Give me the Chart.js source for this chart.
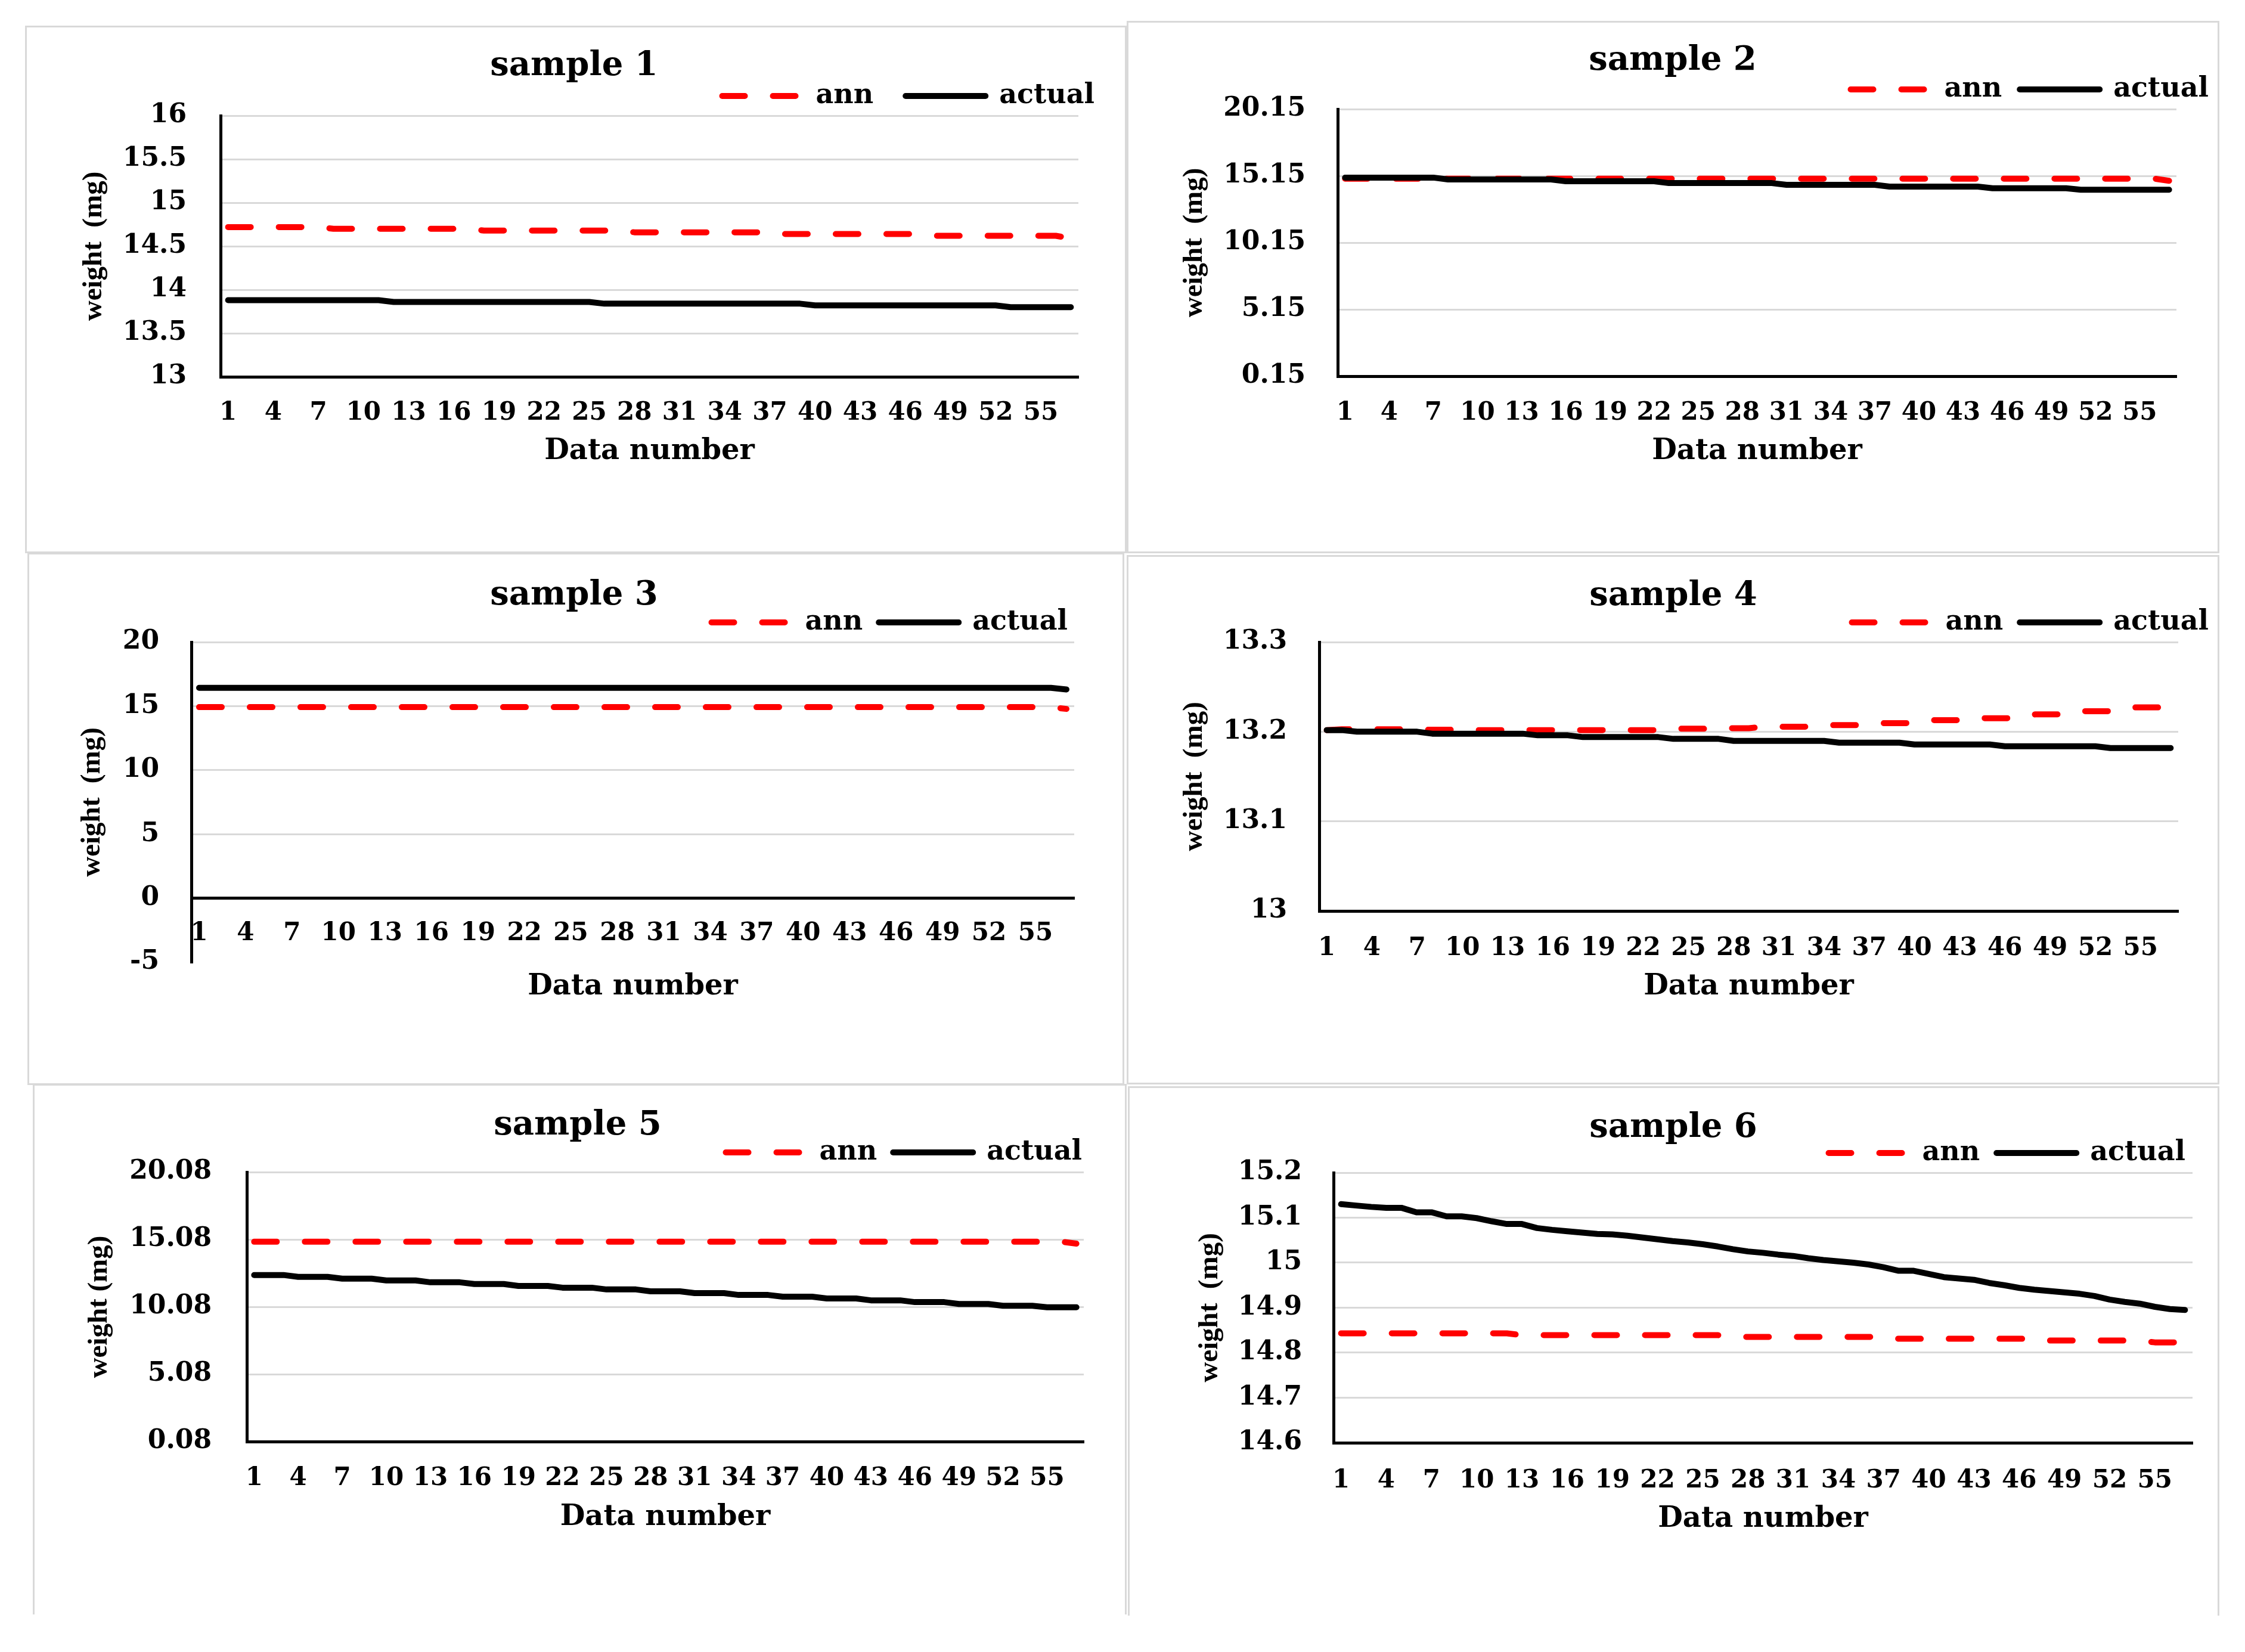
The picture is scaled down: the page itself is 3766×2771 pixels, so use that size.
<!DOCTYPE html>
<html><head><meta charset="utf-8">
<script src="https://cdn.jsdelivr.net/npm/chart.js@4/dist/chart.umd.min.js"></script>
<style>
html,body{margin:0;padding:0;background:#fff;}
body{width:3766px;height:2771px;position:relative;overflow:hidden;}
.frame{position:absolute;box-sizing:border-box;border:3px solid #d9d9d9;pointer-events:none;}
canvas{position:absolute;}
</style></head><body>
<script>
// ---------------- DATA ----------------
const categories = ['1','2','3','4','5','6','7','8','9','10','11','12','13','14','15','16','17','18','19','20',
  '21','22','23','24','25','26','27','28','29','30','31','32','33','34','35','36','37','38','39','40',
  '41','42','43','44','45','46','47','48','49','50','51','52','53','54','55','56','57'];

const sampleTitles = ['sample 1','sample 2','sample 3','sample 4','sample 5','sample 6'];
const seriesNames = ['ann','actual'];
const xAxisTitle = 'Data number';

const s1Ticks = [13, 13.5, 14, 14.5, 15, 15.5, 16];
const s1Ann = [14.72,14.72,14.72,14.72,14.72,14.72,14.72,14.70,14.70,14.70,14.70,14.70,14.70,14.70,14.70,14.70,14.70,
  14.68,14.68,14.68,14.68,14.68,14.68,14.68,14.68,14.68,14.68,14.66,14.66,14.66,14.66,14.66,14.66,14.66,14.66,14.66,14.66,
  14.64,14.64,14.64,14.64,14.64,14.64,14.64,14.64,14.64,14.64,14.62,14.62,14.62,14.62,14.62,14.62,14.62,14.62,14.62,14.59];
const s1Actual = [13.88,13.88,13.88,13.88,13.88,13.88,13.88,13.88,13.88,13.88,13.88,
  13.86,13.86,13.86,13.86,13.86,13.86,13.86,13.86,13.86,13.86,13.86,13.86,13.86,13.86,
  13.84,13.84,13.84,13.84,13.84,13.84,13.84,13.84,13.84,13.84,13.84,13.84,13.84,13.84,
  13.82,13.82,13.82,13.82,13.82,13.82,13.82,13.82,13.82,13.82,13.82,13.82,13.82,
  13.80,13.80,13.80,13.80,13.80];

const s2Ticks = [0.15, 5.15, 10.15, 15.15, 20.15];
const s2Ann = [14.94,14.94,14.94,14.94,14.94,14.94,14.94,14.94,14.94,14.94,14.94,14.94,14.94,14.94,14.94,14.94,14.94,14.94,14.94,
  14.94,14.94,14.94,14.94,14.94,14.94,14.94,14.94,14.94,14.94,14.94,14.94,14.94,14.94,14.94,14.94,14.94,14.94,14.94,14.94,
  14.94,14.94,14.94,14.94,14.94,14.94,14.94,14.94,14.94,14.94,14.94,14.94,14.94,14.94,14.94,14.94,14.94,14.78];
const s2Actual = [15.02,15.02,15.02,15.02,15.02,15.02,15.02,
  14.88,14.88,14.88,14.88,14.88,14.88,14.88,14.88,
  14.75,14.75,14.75,14.75,14.75,14.75,14.75,
  14.61,14.61,14.61,14.61,14.61,14.61,14.61,14.61,
  14.48,14.48,14.48,14.48,14.48,14.48,14.48,
  14.35,14.35,14.35,14.35,14.35,14.35,14.35,
  14.22,14.22,14.22,14.22,14.22,14.22,
  14.11,14.11,14.11,14.11,14.11,14.11,14.11];

const s3Ticks = [-5, 0, 5, 10, 15, 20];
const s3Ann = [14.92,14.92,14.92,14.92,14.92,14.92,14.92,14.92,14.92,14.92,14.92,14.92,14.92,14.92,14.92,14.92,14.92,14.92,14.92,
  14.92,14.92,14.92,14.92,14.92,14.92,14.92,14.92,14.92,14.92,14.92,14.92,14.92,14.92,14.92,14.92,14.92,14.92,14.92,14.92,
  14.92,14.92,14.92,14.92,14.92,14.92,14.92,14.92,14.92,14.92,14.92,14.92,14.92,14.92,14.92,14.92,14.92,14.78];
const s3Actual = [16.43,16.43,16.43,16.43,16.43,16.43,16.43,16.43,16.43,16.43,16.43,16.43,16.43,16.43,16.43,16.43,16.43,16.43,16.43,
  16.43,16.43,16.43,16.43,16.43,16.43,16.43,16.43,16.43,16.43,16.43,16.43,16.43,16.43,16.43,16.43,16.43,16.43,16.43,16.43,
  16.43,16.43,16.43,16.43,16.43,16.43,16.43,16.43,16.43,16.43,16.43,16.43,16.43,16.43,16.43,16.43,16.43,16.30];

const s4Ticks = [13, 13.1, 13.2, 13.3];
const s4Ann = [13.2018,13.2027,13.2027,13.2027,13.2027,13.2027,13.2022,13.2022,13.2022,13.2022,
  13.2018,13.2018,13.2018,13.2018,13.2018,13.2018,13.2018,13.2018,13.2018,13.2018,13.2018,13.2018,13.2018,
  13.2033,13.2033,13.2033,13.2039,13.2039,13.2039,13.2056,13.2056,13.2056,13.2056,
  13.2073,13.2073,13.2073,13.2073,13.2096,13.2096,13.2096,13.2129,13.2129,13.2129,
  13.2151,13.2151,13.2151,13.2151,13.2193,13.2193,13.2193,13.2229,13.2229,13.2229,
  13.2271,13.2271,13.2271,13.2275];
const s4Actual = [13.2018,13.2018,13.2000,13.2000,13.2000,13.2000,13.2000,
  13.1978,13.1978,13.1978,13.1978,13.1978,13.1978,13.1978,13.1960,13.1960,13.1960,
  13.1940,13.1940,13.1940,13.1940,13.1940,13.1940,13.1920,13.1920,13.1920,13.1920,
  13.1898,13.1898,13.1898,13.1898,13.1898,13.1898,13.1898,13.1878,13.1878,13.1878,13.1878,13.1878,
  13.1858,13.1858,13.1858,13.1858,13.1858,13.1858,13.1838,13.1838,13.1838,13.1838,13.1838,13.1838,13.1838,
  13.1818,13.1818,13.1818,13.1818,13.1818];

const s5Ticks = [0.08, 5.08, 10.08, 15.08, 20.08];
const s5Ann = [14.91,14.91,14.91,14.91,14.91,14.91,14.91,14.91,14.91,14.91,14.91,14.91,14.91,14.91,14.91,14.91,14.91,14.91,14.91,
  14.91,14.91,14.91,14.91,14.91,14.91,14.91,14.91,14.91,14.91,14.91,14.91,14.91,14.91,14.91,14.91,14.91,14.91,14.91,14.91,
  14.91,14.91,14.91,14.91,14.91,14.91,14.91,14.91,14.91,14.91,14.91,14.91,14.91,14.91,14.91,14.91,14.91,14.77];
const s5Actual = [12.44,12.44,12.44,12.30,12.30,12.30,12.17,12.17,12.17,12.04,12.04,12.04,11.90,11.90,11.90,
  11.77,11.77,11.77,11.63,11.63,11.63,11.50,11.50,11.50,11.37,11.37,11.37,11.23,11.23,11.23,
  11.10,11.10,11.10,10.96,10.96,10.96,10.83,10.83,10.83,10.70,10.70,10.70,10.56,10.56,10.56,
  10.43,10.43,10.43,10.29,10.29,10.29,10.16,10.16,10.16,10.05,10.05,10.05];

const s6Ticks = [14.6, 14.7, 14.8, 14.9, 15, 15.1, 15.2];
const s6Ann = [14.843,14.843,14.843,14.843,14.843,14.843,14.843,14.843,14.843,14.843,14.843,14.843,
  14.839,14.839,14.839,14.839,14.839,14.839,14.839,14.839,14.839,14.839,14.839,14.839,14.839,14.839,
  14.835,14.835,14.835,14.835,14.835,14.835,14.835,14.835,14.835,14.835,14.835,
  14.831,14.831,14.831,14.831,14.831,14.831,14.831,14.831,14.831,14.831,
  14.827,14.827,14.827,14.827,14.827,14.827,14.827,14.823,14.823,14.823];
const s6Actual = [15.130,15.127,15.124,15.122,15.122,15.112,15.112,15.103,15.103,15.099,15.092,15.086,15.086,15.077,15.073,
  15.070,15.067,15.064,15.063,15.060,15.056,15.052,15.048,15.045,15.041,15.036,15.030,15.025,15.022,15.018,
  15.015,15.010,15.006,15.003,15.000,14.996,14.990,14.982,14.982,14.975,14.968,14.965,14.962,14.955,14.950,
  14.944,14.940,14.937,14.934,14.931,14.926,14.918,14.913,14.909,14.902,14.897,14.895];

// ---------------- LAYOUT (pixel geometry of each panel) ----------------
const panels = [
  {title: sampleTitles[0], ticks: s1Ticks, ann: s1Ann, actual: s1Actual, yTitle: 'weight  (mg)',
   box: [42, 43, 1890, 928], titleCx: 963, titleCy: 111, legendEnd: 1836, gap: 54,
   axisX: 370, plotRight: 1809, plotTop: 192, plotBottom: 632, yTickRight: 313, yTitleCx: 158,
   xLabCy: 693, xTitleCy: 758},
  {title: sampleTitles[1], ticks: s2Ticks, ann: s2Ann, actual: s2Actual, yTitle: 'weight  (mg)',
   box: [1890, 35, 3723, 928], titleCx: 2806, titleCy: 102, legendEnd: 3705, gap: 30,
   axisX: 2244, plotRight: 3651, plotTop: 183, plotBottom: 631, yTickRight: 2190, yTitleCx: 2004,
   xLabCy: 693, xTitleCy: 758},
  {title: sampleTitles[2], ticks: s3Ticks, ann: s3Ann, actual: s3Actual, yTitle: 'weight  (mg)',
   box: [46, 927, 1886, 1820], titleCx: 963, titleCy: 999, legendEnd: 1791, gap: 27,
   axisX: 321, plotRight: 1802, plotTop: 1077, plotBottom: 1614, zeroY: 1505, yTickRight: 267, yTitleCx: 155,
   xLabCy: 1564, xTitleCy: 1654, hideGridAt: -5},
  {title: sampleTitles[3], ticks: s4Ticks, ann: s4Ann, actual: s4Actual, yTitle: 'weight  (mg)',
   box: [1890, 931, 3723, 1819], titleCx: 2807, titleCy: 1000, legendEnd: 3705, gap: 28,
   axisX: 2213, plotRight: 3654, plotTop: 1077, plotBottom: 1528, yTickRight: 2159, yTitleCx: 2004,
   xLabCy: 1591, xTitleCy: 1656},
  {title: sampleTitles[4], ticks: s5Ticks, ann: s5Ann, actual: s5Actual, yTitle: 'weight (mg)',
   box: [55, 1818, 1890, 2708], openBottom: true, titleCx: 969, titleCy: 1888, legendEnd: 1815, gap: 27,
   axisX: 414, plotRight: 1818, plotTop: 1966, plotBottom: 2418, yTickRight: 355, yTitleCx: 167,
   xLabCy: 2480, xTitleCy: 2546},
  {title: sampleTitles[5], ticks: s6Ticks, ann: s6Ann, actual: s6Actual, yTitle: 'weight  (mg)',
   box: [1892, 1822, 3723, 2710], openBottom: true, titleCx: 2807, titleCy: 1892, legendEnd: 3666, gap: 28,
   axisX: 2237, plotRight: 3678, plotTop: 1967, plotBottom: 2420, yTickRight: 2184, yTitleCx: 2030,
   xLabCy: 2484, xTitleCy: 2549}
];

const SERIF = "'DejaVu Serif', serif";
const TIMES = "'Liberation Serif', 'Times New Roman', serif";
const F_TITLE = 56, F_LEG = 46, F_YT = 44, F_XT = 42, F_AX = 48, F_YTITLE = 47;
const EXT = 40;
const LABEL_EVERY = 3;
const LINE_W = 10;
const LEGEND_LINE = 134;

Chart.defaults.color = '#000';
Chart.defaults.font.family = SERIF;

function legendLabels(chart) {
  const items = Chart.defaults.plugins.legend.labels.generateLabels(chart);
  return items.map(item => {
    const ds = chart.data.datasets[item.datasetIndex];
    item.lineDash = ds.borderDash || [];
    item.lineWidth = ds.borderWidth;
    item.lineCap = ds.borderCapStyle;
    item.strokeStyle = ds.borderColor;
    item.fillStyle = ds.borderColor;
    item.pointStyle = 'line';
    return item;
  });
}

function build(p) {
  const [L, T, R, B] = p.box;
  const cL = L - EXT, W = R - L + 2 * EXT, H = B - T;
  const X = v => v - cL, Y = v => v - T;

  const frame = document.createElement('div');
  frame.className = 'frame';
  frame.style.left = L + 'px'; frame.style.top = T + 'px';
  frame.style.width = (R - L) + 'px'; frame.style.height = (B - T) + 'px';
  if (p.openBottom) frame.style.borderBottom = 'none';

  const canvas = document.createElement('canvas');
  canvas.width = W; canvas.height = H;
  canvas.style.left = cL + 'px'; canvas.style.top = T + 'px';
  canvas.style.width = W + 'px'; canvas.style.height = H + 'px';
  document.body.appendChild(canvas);
  document.body.appendChild(frame);

  const centerAxis = (p.zeroY !== undefined);
  const padR = W - p.gap - X(p.legendEnd);
  const padL = 2 * X(p.titleCx) - W + padR;
  const yW = X(p.axisX) - padL;
  const yTitlePad = X(p.yTitleCx) - padL - F_YTITLE / 2;
  const yTickPad = p.axisX - p.yTickRight;
  const rW = W - padR - X(p.plotRight);
  const padT = Y(p.titleCy) - F_TITLE / 2;
  const legendTop = Y(p.plotTop) - (F_LEG + p.gap + 10);
  let titlePB = legendTop - padT - F_TITLE;
  if (titlePB < -F_TITLE + 1) titlePB = -F_TITLE + 1;
  const axisY = centerAxis ? Y(p.zeroY) : Y(p.plotBottom);
  const xH = Y(p.xTitleCy) - axisY + F_AX / 2;
  // an axis placed at a data value does not reserve layout space below the plot
  const padB = centerAxis ? (H - Y(p.plotBottom)) : (H - Y(p.plotBottom) - xH);
  const xTickPad = Y(p.xLabCy) - axisY - F_XT / 2;

  new Chart(canvas.getContext('2d'), {
    type: 'line',
    data: {
      labels: categories,
      datasets: [
        {label: seriesNames[0], data: p.ann, borderColor: '#ff0000', backgroundColor: '#ff0000',
         borderWidth: LINE_W, borderDash: [38, 47], borderCapStyle: 'round', borderJoinStyle: 'round',
         pointRadius: 0, pointHoverRadius: 0, tension: 0, fill: false, order: 1, yAxisID: 'y'},
        {label: seriesNames[1], data: p.actual, borderColor: '#000000', backgroundColor: '#000000',
         borderWidth: LINE_W, borderCapStyle: 'round', borderJoinStyle: 'round',
         pointRadius: 0, pointHoverRadius: 0, tension: 0, fill: false, order: 0, yAxisID: 'y'}
      ]
    },
    options: {
      responsive: false, animation: false, devicePixelRatio: 1,
      events: [],
      layout: {padding: {left: padL, right: padR, top: padT, bottom: padB}},
      plugins: {
        tooltip: {enabled: false},
        title: {display: true, text: p.title, color: '#000',
                font: {family: SERIF, size: F_TITLE, weight: 'bold', lineHeight: 1},
                padding: {top: 0, bottom: titlePB}},
        legend: {display: true, position: 'top', align: 'end',
                 labels: {usePointStyle: true, pointStyle: 'line', pointStyleWidth: LEGEND_LINE,
                          padding: p.gap, color: '#000',
                          font: {family: SERIF, size: F_LEG, weight: 'bold'},
                          generateLabels: legendLabels,
                          sort: (a, b) => a.datasetIndex - b.datasetIndex}}
      },
      scales: {
        x: {
          type: 'category', offset: true,
          position: centerAxis ? {y: 0} : 'bottom',
          grid: {display: false, drawTicks: false},
          border: {display: true, color: '#000', width: 5},
          ticks: {autoSkip: false, maxRotation: 0, minRotation: 0, padding: xTickPad, color: '#000',
                  font: {family: SERIF, size: F_XT, weight: 'bold', lineHeight: 1},
                  callback: (v, i) => (i % LABEL_EVERY === 0 ? categories[i] : '')},
          title: {display: true, text: xAxisTitle, color: '#000',
                  font: {family: SERIF, size: F_AX, weight: 'bold', lineHeight: 1},
                  padding: {top: 0, bottom: 0}},
          afterFit: s => { s.height = xH; }
        },
        y: {
          type: 'linear', position: 'left',
          min: p.ticks[0], max: p.ticks[p.ticks.length - 1],
          afterBuildTicks: s => { s.ticks = p.ticks.map(v => ({value: v})); },
          grid: {drawTicks: false, lineWidth: 3,
                 color: c => (c.tick && p.hideGridAt !== undefined && c.tick.value === p.hideGridAt) ? 'rgba(0,0,0,0)' : '#d9d9d9'},
          border: {display: true, color: '#000', width: 5},
          ticks: {padding: yTickPad, color: '#000', autoSkip: false,
                  font: {family: SERIF, size: F_YT, weight: 'bold', lineHeight: 1},
                  callback: v => String(v)},
          title: {display: true, text: p.yTitle, color: '#000',
                  font: {family: TIMES, size: F_YTITLE, weight: 'bold', lineHeight: 1},
                  padding: {top: yTitlePad, bottom: 0}},
          afterFit: s => { s.width = yW; }
        },
        yr: {
          type: 'linear', position: 'right', display: true,
          grid: {display: false, drawTicks: false},
          border: {display: false},
          ticks: {display: false},
          afterFit: s => { s.width = rW; }
        }
      }
    }
  });
}

panels.forEach(build);
</script>
</body></html>
